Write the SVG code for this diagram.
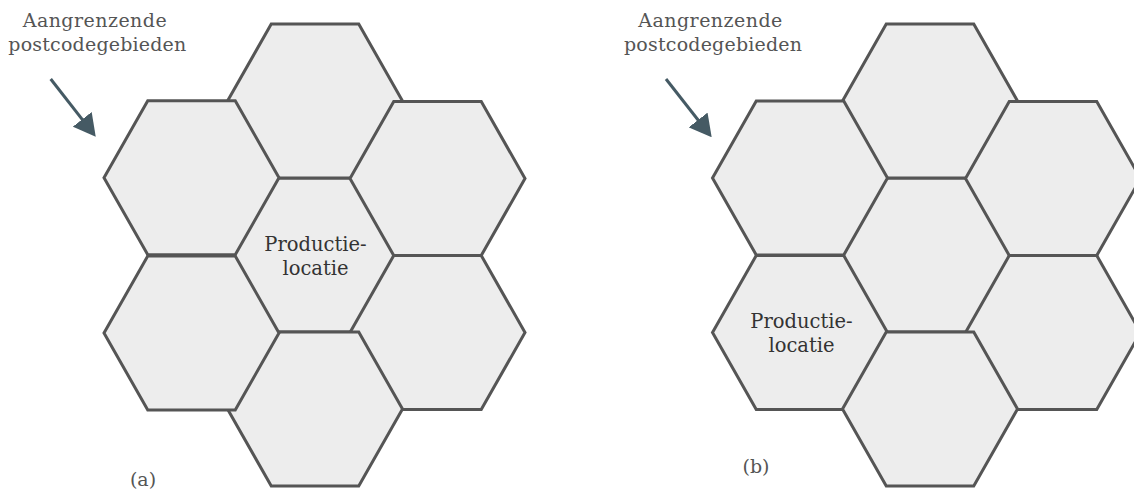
<svg xmlns="http://www.w3.org/2000/svg" xmlns:xlink="http://www.w3.org/1999/xlink" width="1134" height="491" viewBox="0 0 1134 491">
  <style>
    .hex { fill: #ededed; stroke: #555555; stroke-width: 3; stroke-linejoin: miter; }
    .lbl { font-family: "DejaVu Serif", "Liberation Serif", serif; font-size: 19.5px; fill: #333333; text-anchor: middle; }
    .note { font-family: "DejaVu Serif", "Liberation Serif", serif; font-size: 19px; fill: #555555; }
    .cap { font-family: "DejaVu Serif", "Liberation Serif", serif; font-size: 19px; fill: #555555; text-anchor: middle; }
    .arrow { fill: none; stroke: #455a64; stroke-width: 3; marker-end: url(#ah); }
  </style>
  <defs>
    <polygon id="hexshape" points="-87.5,0 -43.75,-77 43.75,-77 87.5,0 43.75,77 -43.75,77"/>
    <marker id="ah" viewBox="0 0 22 24" refX="6" refY="12" markerWidth="22" markerHeight="24" markerUnits="userSpaceOnUse" orient="auto">
      <path d="M0,0 L22,12 L0,24 z" fill="#455a64"/>
    </marker>
  </defs>

  <!-- Diagram (a) -->
  <g id="a-center"><use xlink:href="#hexshape" href="#hexshape" class="hex" transform="translate(315,255)"/></g>
  <g id="a-top"><use xlink:href="#hexshape" href="#hexshape" class="hex" transform="translate(315,101)"/></g>
  <g id="a-bottomright"><use xlink:href="#hexshape" href="#hexshape" class="hex" transform="translate(437.5,332.5)"/></g>
  <g id="a-bottom"><use xlink:href="#hexshape" href="#hexshape" class="hex" transform="translate(315,409)"/></g>
  <g id="a-topleft"><use xlink:href="#hexshape" href="#hexshape" class="hex" transform="translate(191.5,177.7)"/></g>
  <g id="a-topright"><use xlink:href="#hexshape" href="#hexshape" class="hex" transform="translate(437.5,178.5)"/></g>
  <g id="a-bottomleft"><use xlink:href="#hexshape" href="#hexshape" class="hex" transform="translate(191.5,333)"/></g>
  <g id="a-label">
    <text class="lbl" x="315.5" y="250.5">Productie-</text>
    <text class="lbl" x="315.5" y="274.5">locatie</text>
  </g>

  <!-- Diagram (b) -->
  <g id="b-center"><use xlink:href="#hexshape" href="#hexshape" class="hex" transform="translate(930,255)"/></g>
  <g id="b-top"><use xlink:href="#hexshape" href="#hexshape" class="hex" transform="translate(930,101)"/></g>
  <g id="b-topleft"><use xlink:href="#hexshape" href="#hexshape" class="hex" transform="translate(800,178)"/></g>
  <g id="b-bottomleft"><use xlink:href="#hexshape" href="#hexshape" class="hex" transform="translate(800,332.5)"/></g>
  <g id="b-topright"><use xlink:href="#hexshape" href="#hexshape" class="hex" transform="translate(1053,178.5)"/></g>
  <g id="b-bottomright"><use xlink:href="#hexshape" href="#hexshape" class="hex" transform="translate(1053,332.5)"/></g>
  <g id="b-bottom"><use xlink:href="#hexshape" href="#hexshape" class="hex" transform="translate(930,409)"/></g>
  <g id="b-label">
    <text class="lbl" x="801.5" y="328.3">Productie-</text>
    <text class="lbl" x="801.5" y="351.8">locatie</text>
  </g>

  <!-- Annotations -->
  <g id="a-note">
    <text class="note" x="22.7" y="26.7" textLength="144" lengthAdjust="spacing">Aangrenzende</text>
    <text class="note" x="8.3" y="50.7" textLength="178" lengthAdjust="spacing">postcodegebieden</text>
  </g>
  <g id="b-note">
    <text class="note" x="638.3" y="26.7" textLength="144" lengthAdjust="spacing">Aangrenzende</text>
    <text class="note" x="624" y="50.7" textLength="178" lengthAdjust="spacing">postcodegebieden</text>
  </g>

  <g id="connectors">
    <path class="arrow" d="M50.7,79 L85.9,124.1"/>
    <path class="arrow" d="M666,79 L701.8,124.7"/>
  </g>

  <g id="captions">
    <text class="cap" x="143" y="486">(a)</text>
    <text class="cap" x="756" y="473">(b)</text>
  </g>
</svg>
